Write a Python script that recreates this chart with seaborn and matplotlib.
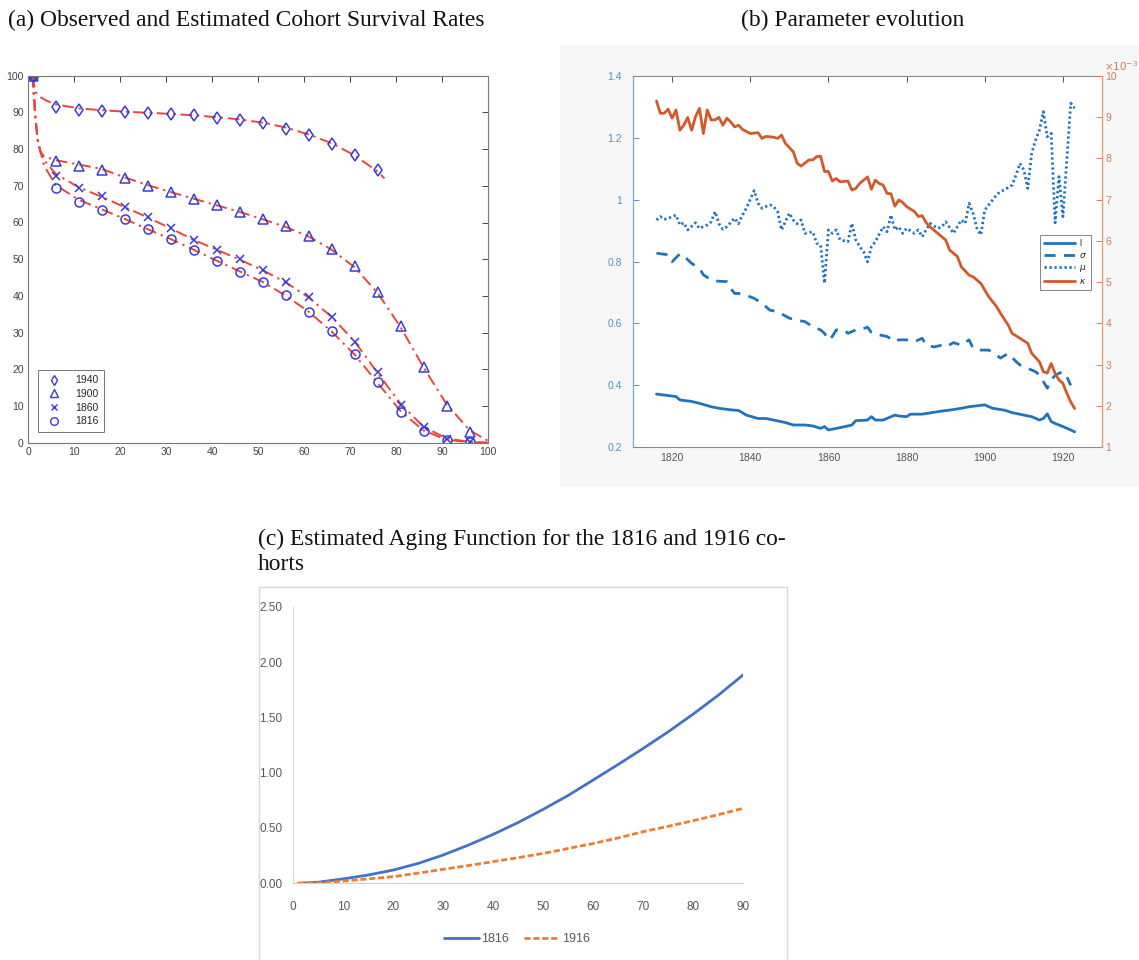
import numpy as np
import pandas as pd
import matplotlib
matplotlib.use("Agg")
import matplotlib.pyplot as plt
from matplotlib.patches import Rectangle
from matplotlib.lines import Line2D
import seaborn as sns

sns.set_theme(style="white")
plt.rcParams['font.family'] = ['Liberation Sans', 'DejaVu Sans']
plt.rcParams['mathtext.fontset'] = 'dejavusans'

# ---------------- Panel (a) data: cohort survival rates ----------------
obs_ages_1940 = [1, 6, 11, 16, 21, 26, 31, 36, 41, 46, 51, 56, 61, 66, 71, 76]
obs_1940 = [100, 91.4, 90.6, 90.5, 90.2, 89.9, 89.7, 89.3, 88.6, 87.9, 87.0, 85.6, 83.8, 81.5, 78.5, 74.3]
obs_ages = [1, 6, 11, 16, 21, 26, 31, 36, 41, 46, 51, 56, 61, 66, 71, 76, 81, 86, 91, 96]
obs_1900 = [100, 76.7, 75.4, 74.3, 72.0, 70.0, 68.2, 66.4, 64.7, 62.9, 60.9, 59.0, 56.4, 52.9, 48.2, 41.1, 31.9, 20.5, 10.0, 3.0]
obs_1860 = [100, 72.6, 69.3, 67.2, 64.3, 61.5, 58.5, 55.2, 52.6, 50.0, 47.1, 43.7, 39.8, 34.3, 27.5, 19.2, 10.3, 4.4, 1.0, 0.3]
obs_1816 = [100, 69.5, 65.5, 63.4, 60.9, 58.1, 55.4, 52.5, 49.5, 46.6, 43.9, 40.2, 35.7, 30.4, 24.2, 16.5, 8.4, 3.3, 0.7, 0.2]

fit_ages_1940 = [1, 1.6, 2.5, 4, 6, 11, 16, 21, 26, 31, 36, 41, 46, 51, 56, 61, 66, 71, 76, 77.5]
fit_1940 = [100, 95.6, 94.3, 93.2, 92.2, 91.1, 90.6, 90.2, 89.9, 89.6, 89.2, 88.7, 88.1, 87.2, 85.9, 84.0, 81.6, 78.3, 73.9, 72.0]
fit_ages = [1, 1.6, 2.1, 2.7, 3.5, 6, 11, 16, 21, 26, 31, 36, 41, 46, 51, 56, 61, 66, 71, 76, 81, 86, 91, 96, 100]
fit_1900 = [100, 88.8, 82.5, 79.3, 78.0, 77.0, 75.8, 74.6, 72.3, 70.2, 68.3, 66.5, 64.7, 62.9, 60.9, 58.8, 56.2, 52.6, 47.8, 40.8, 31.5, 20.5, 10.5, 3.4, 0.5]
fit_1860 = [100, 88.8, 82.5, 79.3, 77.0, 73.3, 69.6, 67.0, 64.2, 61.4, 58.4, 55.3, 52.6, 49.9, 47.0, 43.7, 39.6, 34.3, 27.6, 19.0, 10.6, 4.3, 1.2, 0.2, 0.0]
fit_1816 = [100, 88.8, 82.5, 79.3, 75.5, 70.2, 66.2, 63.6, 61.0, 58.2, 55.5, 52.6, 49.6, 46.7, 43.8, 40.1, 35.7, 30.3, 24.0, 16.3, 8.6, 3.3, 0.8, 0.1, 0.0]

cohort_labels = ["1940", "1900", "1860", "1816"]
cohort_markers = ["d", "^", "x", "o"]

# ---------------- Panel (b) data: parameter evolution ----------------
years_l = [1816, 1819, 1821, 1822, 1825, 1827, 1830, 1832, 1835, 1837, 1839, 1842, 1844, 1846, 1849,
           1851, 1854, 1856, 1858, 1859, 1860, 1862, 1865, 1866, 1867, 1870, 1871, 1872, 1874, 1877,
           1878, 1880, 1881, 1884, 1886, 1889, 1891, 1894, 1896, 1900, 1902, 1905, 1907, 1910, 1912,
           1914, 1915, 1916, 1917, 1918, 1920, 1922, 1923]
l_vals = [0.372, 0.367, 0.364, 0.353, 0.348, 0.342, 0.331, 0.326, 0.321, 0.319, 0.304, 0.293, 0.293, 0.288, 0.280,
          0.272, 0.272, 0.269, 0.261, 0.267, 0.256, 0.261, 0.269, 0.272, 0.286, 0.288, 0.299, 0.288, 0.288, 0.304,
          0.301, 0.299, 0.307, 0.307, 0.311, 0.317, 0.320, 0.326, 0.331, 0.337, 0.326, 0.320, 0.312, 0.304, 0.299,
          0.288, 0.293, 0.308, 0.283, 0.277, 0.267, 0.256, 0.250]

years_sigma = [1816, 1817, 1819, 1820, 1822, 1823, 1825, 1827, 1828, 1830, 1831, 1834, 1835, 1836, 1837,
               1840, 1841, 1843, 1845, 1847, 1850, 1852, 1854, 1856, 1858, 1859, 1860, 1861, 1862, 1864,
               1865, 1867, 1868, 1870, 1871, 1873, 1875, 1877, 1878, 1880, 1882, 1884, 1885, 1887, 1889,
               1890, 1892, 1894, 1896, 1897, 1899, 1901, 1903, 1904, 1906, 1908, 1909, 1911, 1913, 1914,
               1915, 1916, 1917, 1918, 1919, 1920, 1921, 1922]
sigma_vals = [0.827, 0.825, 0.822, 0.799, 0.825, 0.818, 0.794, 0.778, 0.757, 0.741, 0.737, 0.735, 0.713, 0.697, 0.697,
              0.686, 0.681, 0.665, 0.643, 0.638, 0.617, 0.610, 0.606, 0.589, 0.579, 0.568, 0.547, 0.558, 0.579, 0.579,
              0.568, 0.579, 0.579, 0.588, 0.571, 0.563, 0.558, 0.541, 0.547, 0.547, 0.541, 0.552, 0.530, 0.524, 0.530,
              0.524, 0.538, 0.530, 0.547, 0.520, 0.514, 0.514, 0.498, 0.488, 0.503, 0.477, 0.466, 0.455, 0.444, 0.434,
              0.412, 0.391, 0.418, 0.432, 0.439, 0.444, 0.428, 0.400]

years_mu = [1816, 1817, 1818, 1819, 1821, 1822, 1823, 1824, 1826, 1827, 1829, 1830, 1831, 1832, 1833,
            1834, 1836, 1837, 1838, 1839, 1841, 1842, 1843, 1845, 1846, 1847, 1848, 1850, 1851, 1852,
            1853, 1854, 1856, 1857, 1858, 1859, 1860, 1861, 1862, 1863, 1865, 1866, 1867, 1868, 1869,
            1870, 1871, 1872, 1874, 1875, 1876, 1877, 1878, 1879, 1880, 1882, 1883, 1884, 1885, 1886,
            1888, 1889, 1890, 1891, 1892, 1894, 1895, 1896, 1897, 1898, 1899, 1900, 1902, 1903, 1904,
            1905, 1907, 1908, 1909, 1910, 1911, 1912, 1913, 1914, 1915, 1916, 1917, 1918, 1919, 1920,
            1921, 1922, 1923]
mu_vals = [0.934, 0.945, 0.936, 0.939, 0.950, 0.918, 0.925, 0.902, 0.925, 0.907, 0.918, 0.928, 0.961, 0.922, 0.904,
           0.912, 0.940, 0.922, 0.950, 0.972, 1.029, 0.988, 0.972, 0.983, 0.977, 0.961, 0.902, 0.956, 0.934, 0.922,
           0.934, 0.891, 0.896, 0.859, 0.853, 0.730, 0.902, 0.891, 0.902, 0.870, 0.864, 0.923, 0.870, 0.848, 0.832,
           0.799, 0.848, 0.864, 0.912, 0.896, 0.950, 0.902, 0.912, 0.891, 0.907, 0.891, 0.902, 0.880, 0.902, 0.923,
           0.907, 0.912, 0.928, 0.910, 0.891, 0.934, 0.923, 0.988, 0.956, 0.907, 0.886, 0.966, 0.999, 1.015, 1.026,
           1.031, 1.047, 1.079, 1.117, 1.096, 1.036, 1.149, 1.192, 1.225, 1.284, 1.203, 1.214, 0.925, 1.074, 0.945,
           1.128, 1.311, 1.295]

years_kappa = [1816, 1817, 1818, 1819, 1820, 1821, 1822, 1823, 1824, 1825, 1826, 1827, 1828, 1829, 1830,
               1831, 1832, 1833, 1834, 1835, 1836, 1837, 1838, 1840, 1842, 1843, 1844, 1846, 1847, 1848,
               1849, 1851, 1852, 1853, 1855, 1856, 1857, 1858, 1859, 1860, 1861, 1862, 1863, 1865, 1866,
               1867, 1868, 1870, 1871, 1872, 1873, 1874, 1875, 1876, 1877, 1878, 1879, 1880, 1882, 1883,
               1884, 1885, 1886, 1888, 1890, 1891, 1893, 1894, 1896, 1897, 1899, 1901, 1903, 1904, 1906,
               1907, 1909, 1911, 1912, 1914, 1915, 1916, 1917, 1918, 1919, 1920, 1921, 1922, 1923]
kappa_e3 = [9.39, 9.09, 9.09, 9.19, 8.97, 9.17, 8.68, 8.80, 8.99, 8.68, 9.01, 9.21, 8.60, 9.17, 8.93,
            8.93, 8.99, 8.80, 8.97, 8.88, 8.76, 8.80, 8.70, 8.60, 8.62, 8.48, 8.53, 8.51, 8.48, 8.56,
            8.36, 8.16, 7.88, 7.81, 7.96, 7.96, 8.04, 8.05, 7.68, 7.68, 7.45, 7.51, 7.43, 7.45, 7.23,
            7.27, 7.39, 7.55, 7.25, 7.47, 7.39, 7.35, 7.15, 7.14, 6.84, 6.99, 6.93, 6.83, 6.71, 6.59,
            6.61, 6.44, 6.34, 6.18, 6.02, 5.78, 5.62, 5.37, 5.17, 5.13, 4.97, 4.65, 4.41, 4.25, 3.96,
            3.76, 3.64, 3.52, 3.28, 3.07, 2.83, 2.80, 3.03, 2.79, 2.63, 2.55, 2.31, 2.10, 1.94]

# ---------------- Panel (c) data: aging function ----------------
aging_ages = [1, 5, 10, 15, 20, 25, 30, 35, 40, 45, 50, 55, 60, 65, 70, 75, 80, 85, 90]
aging_1816 = [0.0, 0.01, 0.04, 0.075, 0.12, 0.18, 0.256, 0.345, 0.443, 0.55, 0.669, 0.795, 0.934, 1.075, 1.22, 1.37, 1.53, 1.70, 1.885]
aging_1916 = [0.0, 0.005, 0.02, 0.04, 0.06, 0.092, 0.127, 0.16, 0.196, 0.232, 0.27, 0.315, 0.36, 0.41, 0.467, 0.515, 0.566, 0.62, 0.678]

# ====================================================================
W, H = 1139, 960
fig = plt.figure(figsize=(W / 100, H / 100), dpi=100)
fig.patch.set_facecolor("white")

def fx(px):
    return px / W

def fy(py):
    return 1 - py / H

serif = ['Liberation Serif', 'DejaVu Serif']
title_fs = 16.9

# light grey screenshot background behind panel (b)
fig.patches.append(Rectangle((fx(560), fy(487)), fx(1139) - fx(560), fy(45) - fy(487),
                             transform=fig.transFigure, facecolor="#f7f7f7", edgecolor="none", zorder=-10))

fig.text(fx(8), fy(20), "(a) Observed and Estimated Cohort Survival Rates", family=serif,
         fontsize=title_fs, va="center", ha="left", color="#111111")
fig.text(fx(741), fy(20), "(b) Parameter evolution", family=serif,
         fontsize=title_fs, va="center", ha="left", color="#111111")
fig.text(fx(258), fy(539), "(c) Estimated Aging Function for the 1816 and 1916 co-", family=serif,
         fontsize=title_fs, va="center", ha="left", color="#111111")
fig.text(fx(258), fy(564), "horts", family=serif,
         fontsize=title_fs, va="center", ha="left", color="#111111")

# ---------------- Panel (a) ----------------
axA = fig.add_axes([fx(28), fy(442.7), fx(488) - fx(28), fy(75.7) - fy(442.7)])
axA.set_facecolor("white")
red = "#e8463c"
blue_m = "#3a3ad8"
fit_sets = [(fit_ages_1940, fit_1940), (fit_ages, fit_1900), (fit_ages, fit_1860), (fit_ages, fit_1816)]
obs_sets = [(obs_ages_1940, obs_1940), (obs_ages, obs_1900), (obs_ages, obs_1860), (obs_ages, obs_1816)]
for (fa, fv) in fit_sets:
    sns.lineplot(x=fa, y=fv, ax=axA, color=red, linestyle=(0, (6, 2.5, 1.2, 2.5)), linewidth=1.4,
                 estimator=None, sort=False, legend=False)
handles_a = []
for (oa, ov), mk, lab in zip(obs_sets, cohort_markers, cohort_labels):
    sns.lineplot(x=oa, y=ov, ax=axA, linestyle="none", marker=mk, markersize=6.5 if mk != "x" else 5.5,
                 markerfacecolor="none", markeredgecolor=blue_m, markeredgewidth=1.1, color=blue_m,
                 estimator=None, sort=False, legend=False)
    handles_a.append(Line2D([], [], linestyle="none", marker=mk, markersize=5.5 if mk != "x" else 4.5,
                            markerfacecolor="none", markeredgecolor=blue_m, markeredgewidth=1.0))
axA.set_xlim(0, 100)
axA.set_ylim(0, 100)
axA.set_xticks(np.arange(0, 101, 10))
axA.set_yticks(np.arange(0, 101, 10))
axA.tick_params(direction="in", length=4, width=0.7, colors="#444444", labelsize=7.5,
                top=True, right=True, pad=3)
for s in axA.spines.values():
    s.set_color("#777777")
    s.set_linewidth(0.8)
legA = axA.legend(handles_a, cohort_labels, loc="lower left", bbox_to_anchor=(0.022, 0.029),
                  borderaxespad=0, fontsize=7.5, frameon=True, fancybox=False, handlelength=2.0,
                  handletextpad=1.0, borderpad=0.55, labelspacing=0.35)
legA.get_frame().set_edgecolor("#555555")
legA.get_frame().set_linewidth(0.7)

# ---------------- Panel (b) ----------------
axB = fig.add_axes([fx(633), fy(447.3), fx(1102) - fx(633), fy(75.7) - fy(447.3)])
axB.set_facecolor("white")
mblue = "#1f74bb"
morange = "#d4592a"
lblue_txt = "#4f92cc"
lorange_txt = "#d97a52"

sns.lineplot(x=years_l, y=l_vals, ax=axB, color=mblue, linewidth=2.0, estimator=None, legend=False)
sns.lineplot(x=years_sigma, y=sigma_vals, ax=axB, color=mblue, linewidth=2.0,
             linestyle=(0, (4, 3)), estimator=None, legend=False)
sns.lineplot(x=years_mu, y=mu_vals, ax=axB, color=mblue, linewidth=2.0,
             linestyle=(0, (0.8, 1.0)), estimator=None, legend=False)
axB.set_xlim(1810, 1930)
axB.set_ylim(0.2, 1.4)
axB.set_xticks([1820, 1840, 1860, 1880, 1900, 1920])
axB.set_yticks([0.2, 0.4, 0.6, 0.8, 1.0, 1.2, 1.4])
axB.set_yticklabels(["0.2", "0.4", "0.6", "0.8", "1", "1.2", "1.4"])
axB.tick_params(axis="x", direction="in", length=4, width=0.7, colors="#555555", labelsize=7.5, top=True, pad=4)
axB.tick_params(axis="y", direction="in", length=4, width=0.7, colors=lblue_txt, labelsize=7.5, pad=8)
for side in ["top", "bottom"]:
    axB.spines[side].set_color("#8a8a8a")
    axB.spines[side].set_linewidth(0.8)
axB.spines["left"].set_color("#7fb0d8")
axB.spines["left"].set_linewidth(1.0)
axB.spines["right"].set_visible(False)

axB2 = axB.twinx()
sns.lineplot(x=years_kappa, y=kappa_e3, ax=axB2, color=morange, linewidth=2.0, estimator=None, legend=False)
axB2.set_ylim(1, 10)
axB2.set_yticks(np.arange(1, 11, 1))
axB2.tick_params(axis="y", direction="in", length=4, width=0.7, colors=lorange_txt, labelsize=7.5, pad=2.5)
axB2.spines["right"].set_color("#e0a080")
axB2.spines["right"].set_linewidth(1.0)
for side in ["top", "bottom", "left"]:
    axB2.spines[side].set_visible(False)
axB2.set_ylabel("")
axB.set_ylabel("")
axB2.grid(False)
axB.grid(False)
fig.text(fx(1104), fy(66), r"$\times10^{-3}$", color=lorange_txt, fontsize=7.5, ha="left", va="center")

handles_b = [Line2D([], [], color=mblue, lw=2.0),
             Line2D([], [], color=mblue, lw=2.0, linestyle=(0, (4, 3))),
             Line2D([], [], color=mblue, lw=2.0, linestyle=(0, (0.8, 1.0))),
             Line2D([], [], color=morange, lw=2.0)]
legB = axB2.legend(handles_b, ["l", r"$\sigma$", r"$\mu$", r"$\kappa$"], loc="center left",
                   bbox_to_anchor=(0.868, 0.497), borderaxespad=0, fontsize=6.5, frameon=True,
                   fancybox=False, handlelength=3.4, handletextpad=0.5, borderpad=0.45, labelspacing=0.35)
legB.get_frame().set_edgecolor("#666666")
legB.get_frame().set_linewidth(0.7)

# ---------------- Panel (c) ----------------
fig.patches.append(Rectangle((fx(259), fy(962)), fx(787) - fx(259), fy(587) - fy(962),
                             transform=fig.transFigure, facecolor="white", edgecolor="#d9d9d9",
                             linewidth=1.0, zorder=-10))
axC = fig.add_axes([fx(293.3), fy(883.3), fx(743.3) - fx(293.3), fy(606.7) - fy(883.3)])
axC.set_facecolor("none")
xl_blue = "#4472c4"
xl_orange = "#ed7d31"
sns.lineplot(x=aging_ages, y=aging_1816, ax=axC, color=xl_blue, linewidth=2.0, estimator=None, legend=False)
sns.lineplot(x=aging_ages, y=aging_1916, ax=axC, color=xl_orange, linewidth=2.0,
             linestyle=(0, (2.2, 1.0)), estimator=None, legend=False)
axC.set_xlim(0, 90)
axC.set_ylim(0, 2.5)
axC.set_xticks(np.arange(0, 91, 10))
axC.set_yticks(np.arange(0, 2.51, 0.5))
axC.set_yticklabels([f"{v:.2f}" for v in np.arange(0, 2.51, 0.5)])
narrow = ['Liberation Sans Narrow', 'Liberation Sans', 'DejaVu Sans']
for lab in axC.get_xticklabels() + axC.get_yticklabels():
    lab.set_family(narrow)
axC.tick_params(length=0, colors="#595959", labelsize=8.5)
axC.tick_params(axis="x", pad=13)
axC.tick_params(axis="y", pad=8)
for side in ["top", "right"]:
    axC.spines[side].set_visible(False)
axC.spines["left"].set_color("#d9d9d9")
axC.spines["bottom"].set_color("#d0d0d0")
axC.spines["left"].set_linewidth(0.8)
axC.spines["bottom"].set_linewidth(0.8)
axC.grid(False)
handles_c = [Line2D([], [], color=xl_blue, lw=2.0),
             Line2D([], [], color=xl_orange, lw=2.0, linestyle=(0, (2.2, 1.0)))]
legC = fig.legend(handles_c, ["1816", "1916"], loc="center", bbox_to_anchor=(fx(517), fy(939)),
                  ncol=2, frameon=False, handlelength=2.8, handletextpad=0.2,
                  columnspacing=1.2, prop={'family': narrow, 'size': 9})
for t in legC.get_texts():
    t.set_color("#595959")

fig.savefig("out.png", dpi=100, facecolor="white")
